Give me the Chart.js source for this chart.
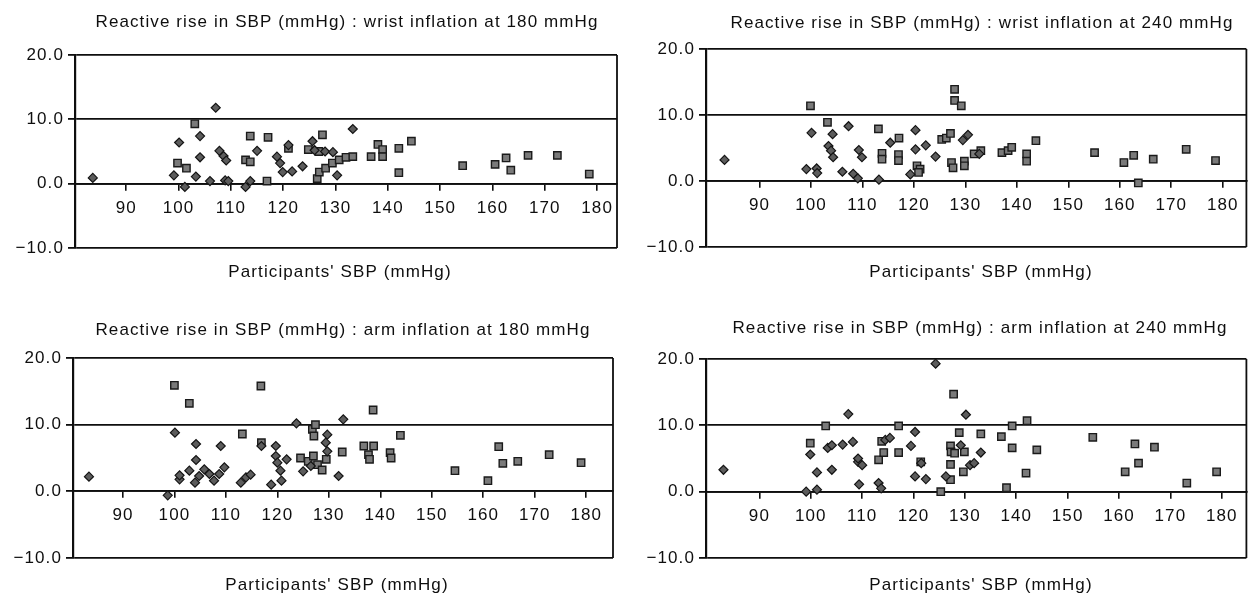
<!DOCTYPE html>
<html>
<head>
<meta charset="utf-8">
<script src="https://cdn.jsdelivr.net/npm/chart.js@4.4.1/dist/chart.umd.min.js"></script>
<style>
html,body{margin:0;padding:0;background:#fff;}
body{width:1253px;height:597px;position:relative;overflow:hidden;}
canvas{position:absolute;}
</style>
</head>
<body>
<canvas id="c1"></canvas>
<canvas id="c2"></canvas>
<canvas id="c3"></canvas>
<canvas id="c4"></canvas>
<script>
// ---------- tick labels / text ----------
const xTicks = [90, 100, 110, 120, 130, 140, 150, 160, 170, 180];
const yTicks = [-10, 0, 10, 20];
const yTickLabels = ['\u221210.0', '0.0', '10.0', '20.0'];
const panelTitles = [
  'Reactive rise in SBP (mmHg) : wrist inflation at 180 mmHg',
  'Reactive rise in SBP (mmHg) : wrist inflation at 240 mmHg',
  'Reactive rise in SBP (mmHg) : arm inflation at 180 mmHg',
  'Reactive rise in SBP (mmHg) : arm inflation at 240 mmHg'
];
const xAxisTitle = "Participants' SBP (mmHg)";

// ---------- data: wrist inflation at 180 mmHg ----------
const wrist180DiamondSBP  = [83.6,107.1,100.1,104.1,104.1,99.1,101.2,103.3,106.0,107.8,108.6,109.1,108.9,109.5,112.8,113.7,115.0,118.8,119.4,119.9,121.0,121.7,123.7,125.6,126.0,128.0,129.5,130.3,133.3];
const wrist180DiamondRise = [0.9,11.8,6.4,7.4,4.1,1.3,-0.5,1.1,0.4,5.1,4.3,3.6,0.5,0.4,-0.5,0.4,5.1,4.2,3.2,1.8,6.0,1.9,2.7,6.6,5.2,5.0,4.9,1.3,8.5];
const wrist180SquareSBP   = [103.1,99.8,101.5,113.7,112.8,113.7,117.1,116.9,121.0,127.5,124.8,126.8,126.5,126.9,128.1,129.4,130.7,132.0,133.3,136.8,138.1,139.0,139.0,142.1,144.5,142.1,154.3,160.5,162.6,163.5,166.8,172.4,178.5];
const wrist180SquareRise  = [9.3,3.2,2.4,7.4,3.7,3.4,7.2,0.4,5.5,7.6,5.3,5.0,0.8,1.8,2.4,3.2,3.7,4.1,4.2,4.2,6.1,5.3,4.2,5.5,6.6,1.7,2.8,3.0,4.0,2.1,4.4,4.4,1.5];

// ---------- data: wrist inflation at 240 mmHg ----------
const wrist240DiamondSBP  = [83.2,100.1,99.1,101.1,101.2,104.2,103.4,103.9,104.3,107.3,106.1,108.2,109.1,109.3,109.9,113.2,115.4,120.3,120.3,122.3,124.2,119.3,129.5,130.5,132.7];
const wrist240DiamondRise = [3.2,7.3,1.8,1.9,1.2,7.1,5.3,4.6,3.6,8.3,1.4,1.1,0.4,4.7,3.6,0.2,5.8,7.7,4.8,5.4,3.7,1.0,6.2,7.0,4.1];
const wrist240SquareSBP   = [99.9,103.2,113.1,113.8,113.8,117.1,117.0,117.0,120.6,121.2,120.9,127.9,127.9,129.2,125.4,126.3,127.1,127.3,127.6,129.8,129.8,131.7,133.0,137.1,138.3,139.0,141.9,141.9,143.7,155.1,160.8,162.7,163.6,166.5,172.9,178.6];
const wrist240SquareRise  = [11.4,8.9,7.9,4.2,3.3,6.5,4.0,3.1,2.3,1.8,1.3,13.9,12.2,11.4,6.3,6.5,7.2,2.8,2.0,3.0,2.3,4.1,4.6,4.3,4.6,5.1,4.1,3.0,6.1,4.3,2.8,3.9,-0.3,3.3,4.8,3.1];

// ---------- data: arm inflation at 180 mmHg ----------
const arm180DiamondSBP  = [83.4,100.1,98.7,101.0,101.0,102.9,104.2,104.2,104.0,104.8,105.8,106.8,107.7,108.7,109.7,109.0,112.9,113.9,114.8,116.9,119.7,119.7,120.0,120.6,120.8,121.8,118.8,123.7,125.0,126.5,129.7,129.4,129.7,131.9,132.8];
const arm180DiamondRise = [2.2,8.8,-0.6,1.8,2.4,3.1,7.1,4.7,1.3,2.3,3.3,2.6,1.6,2.6,3.6,6.8,1.3,2.1,2.5,6.8,6.8,5.3,4.3,3.1,1.6,4.8,1.0,10.2,3.0,3.8,8.5,7.3,6.0,2.3,10.8];
const arm180SquareSBP   = [100.0,102.9,116.8,113.2,116.9,124.5,126.8,127.4,127.1,126.0,127.0,127.8,128.7,129.5,132.6,136.8,137.7,138.7,137.9,138.6,141.9,142.1,143.9,154.5,160.9,163.0,163.8,166.7,172.8,179.0];
const arm180SquareRise  = [15.9,13.2,15.8,8.6,7.3,5.0,9.3,10.0,8.3,4.5,5.3,4.0,3.2,4.8,5.9,6.8,5.5,6.8,4.8,12.2,5.8,5.0,8.4,3.1,1.6,6.7,4.2,4.5,5.5,4.3];

// ---------- data: arm inflation at 240 mmHg ----------
const arm240DiamondSBP  = [83.0,124.3,107.3,130.2,99.9,99.1,101.2,101.2,104.1,103.3,104.1,106.2,108.2,109.2,110.0,109.2,109.4,113.2,113.7,114.5,115.4,119.5,120.3,122.4,121.5,120.3,129.2,133.1,131.0,131.8,126.3];
const arm240DiamondRise = [3.3,19.3,11.7,11.6,5.6,0.0,0.3,2.9,3.3,6.6,7.0,7.1,7.5,4.5,4.0,5.0,1.1,1.3,0.5,7.8,8.1,6.9,2.3,1.9,4.3,9.0,7.0,5.9,4.0,4.3,2.3];
const arm240SquareSBP   = [99.9,102.9,113.2,114.2,113.8,117.1,117.1,121.4,125.3,127.8,128.9,127.2,127.3,128.0,127.2,127.2,129.9,129.7,133.1,137.1,138.1,139.2,142.1,139.2,141.9,144.0,154.9,161.2,163.1,163.8,166.9,173.2,179.0];
const arm240SquareRise  = [7.3,9.9,4.8,5.9,7.6,5.9,9.9,4.5,0.0,14.7,8.9,6.9,6.0,5.8,4.1,1.8,6.0,3.0,8.7,8.3,0.6,9.9,10.7,6.6,2.8,6.3,8.2,3.0,7.2,4.3,6.7,1.3,3.0];

// ---------- panel layout (positions only) ----------
const panels = [
  {id:'c1', left:0,   top:0,   w:626, h:300, area:{l:75, t:55, r:617, b:248}, xMin:80.2, xMax:183.8,
   titleX:347, titleY:22, axisX:340, axisY:272,
   diamonds:[wrist180DiamondSBP, wrist180DiamondRise], squares:[wrist180SquareSBP, wrist180SquareRise]},
  {id:'c2', left:626, top:0,   w:627, h:300, area:{l:80, t:49, r:625, b:247}, xMin:79.6, xMax:184.6,
   titleX:356, titleY:23, axisX:355, axisY:272,
   diamonds:[wrist240DiamondSBP, wrist240DiamondRise], squares:[wrist240SquareSBP, wrist240SquareRise]},
  {id:'c3', left:0,   top:300, w:626, h:297, area:{l:73, t:58, r:613, b:258}, xMin:80.3, xMax:185.2,
   titleX:343, titleY:30, axisX:337, axisY:285,
   diamonds:[arm180DiamondSBP, arm180DiamondRise], squares:[arm180SquareSBP, arm180SquareRise]},
  {id:'c4', left:626, top:300, w:627, h:297, area:{l:80, t:59, r:626, b:258}, xMin:79.6, xMax:184.8,
   titleX:354, titleY:28, axisX:355, axisY:285,
   diamonds:[arm240DiamondSBP, arm240DiamondRise], squares:[arm240SquareSBP, arm240SquareRise]}
];

const FONT = 'Liberation Sans, Arial, Helvetica, sans-serif';
const SPACING = '1.1px';
const INK = '#0e0e0e';

function toPoints(xs, ys) { return xs.map((x, i) => ({x: x, y: ys[i]})); }

const spacingPlugin = {
  id: 'spacing',
  beforeLayout(chart) { chart.ctx.letterSpacing = SPACING; },
  beforeDraw(chart) { chart.ctx.letterSpacing = SPACING; }
};

const framePlugin = {
  id: 'frame',
  afterDatasetsDraw(chart) {
    const {ctx, chartArea: a} = chart;
    ctx.save();
    ctx.strokeStyle = INK;
    ctx.lineWidth = 1.8;
    ctx.beginPath();
    ctx.moveTo(a.right, a.top);
    ctx.lineTo(a.right, a.bottom);
    ctx.stroke();
    ctx.restore();
  }
};

const panelTextPlugin = {
  id: 'panelText',
  afterDraw(chart, args, opts) {
    const ctx = chart.ctx;
    ctx.save();
    ctx.letterSpacing = SPACING;
    ctx.fillStyle = INK;
    ctx.font = '17px ' + FONT;
    ctx.textAlign = 'center';
    ctx.textBaseline = 'middle';
    ctx.fillText(opts.title, opts.titleX, opts.titleY);
    ctx.fillText(opts.axisTitle, opts.axisX, opts.axisY);
    ctx.restore();
  }
};

panels.forEach((p, idx) => {
  const cv = document.getElementById(p.id);
  cv.width = p.w; cv.height = p.h;
  cv.style.left = p.left + 'px'; cv.style.top = p.top + 'px';
  cv.style.width = p.w + 'px'; cv.style.height = p.h + 'px';
  new Chart(cv.getContext('2d'), {
    type: 'scatter',
    data: {
      datasets: [
        {label: 'Diamonds', data: toPoints(p.diamonds[0], p.diamonds[1]),
         pointStyle: 'rectRot', pointRadius: 4.5, backgroundColor: '#5c5c5c',
         borderColor: '#141414', borderWidth: 1.2},
        {label: 'Squares', data: toPoints(p.squares[0], p.squares[1]),
         pointStyle: 'rect', pointRadius: 5.2, backgroundColor: '#7a7a7a',
         borderColor: '#1a1a1a', borderWidth: 1.4}
      ]
    },
    options: {
      responsive: false,
      animation: false,
      events: [],
      devicePixelRatio: 1,
      layout: {padding: {left: 0, top: p.area.t, right: p.w - p.area.r, bottom: p.h - p.area.b}},
      plugins: {
        legend: {display: false},
        tooltip: {enabled: false},
        panelText: {title: panelTitles[idx], axisTitle: xAxisTitle,
                    titleX: p.titleX, titleY: p.titleY, axisX: p.axisX, axisY: p.axisY}
      },
      scales: {
        x: {
          type: 'linear', min: p.xMin, max: p.xMax, position: {y: 0},
          afterBuildTicks: (s) => { s.ticks = xTicks.map(v => ({value: v})); },
          grid: {drawOnChartArea: false, drawTicks: true, tickLength: 6, color: INK, lineWidth: 1.6},
          border: {display: true, color: INK, width: 1.8},
          ticks: {font: {family: FONT, size: 17}, color: INK, padding: 8, maxRotation: 0, autoSkip: false}
        },
        y: {
          type: 'linear', min: -10, max: 20,
          afterBuildTicks: (s) => { s.ticks = yTicks.map(v => ({value: v})); },
          afterFit: (s) => { s.width = p.area.l; },
          grid: {color: INK, lineWidth: 1.8, drawTicks: true, tickLength: 7},
          border: {display: true, color: INK, width: 2.2},
          ticks: {callback: (v) => yTickLabels[yTicks.indexOf(v)],
                  font: {family: FONT, size: 17}, color: INK, padding: 4}
        }
      }
    },
    plugins: [spacingPlugin, framePlugin, panelTextPlugin]
  });
});
</script>
</body>
</html>
